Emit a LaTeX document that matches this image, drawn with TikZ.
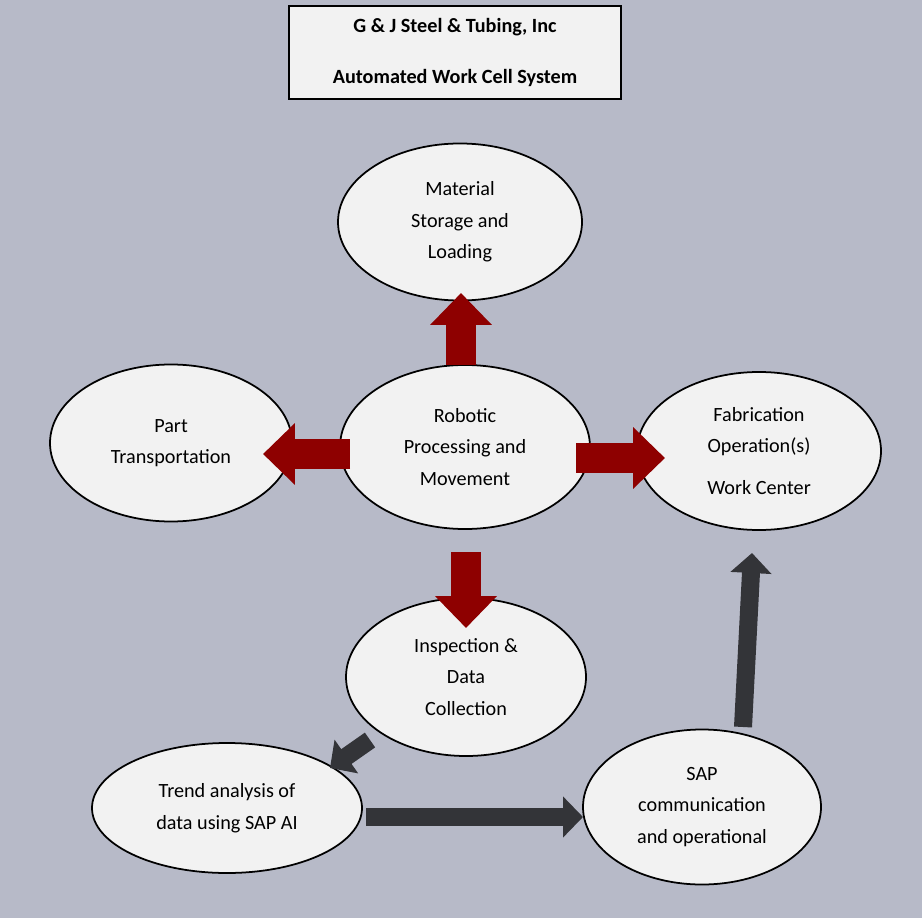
\documentclass[tikz,border=0pt]{standalone}
\usepackage{fontspec}
\setmainfont{Carlito}
\usetikzlibrary{shapes.geometric,arrows.meta}
\definecolor{bg}{HTML}{B7BAC8}
\definecolor{ell}{HTML}{F2F2F2}
\definecolor{red}{HTML}{8E0000}
\definecolor{dark}{HTML}{333438}
\begin{document}
\begin{tikzpicture}[x=0.02cm,y=-0.02cm,
  el/.style={ellipse,draw=black,line width=1pt,fill=ell,inner sep=0pt,align=center,font=\fontsize{11.5}{18}\selectfont},
  ra/.style={draw=red,line width=0.6cm,-{Triangle[width=1.2cm,length=0.64cm]}},
  da/.style={draw=dark,line width=0.36cm,-{Triangle[width=0.8cm,length=0.4cm]}}]
\fill[bg] (0,0) rectangle (922,918);
\useasboundingbox (0,0) rectangle (922,918);
\node[draw=black,line width=0.8pt,fill=ell,minimum width=332*0.02cm,minimum height=93*0.02cm,align=center,font=\bfseries\fontsize{11.5}{29}\selectfont] (title) at (455,52.5) {G \& J Steel \& Tubing, Inc\\Automated Work Cell System};
\node[el,minimum width=244*0.02cm,minimum height=157*0.02cm] (mat) at (460,222) {Material\\Storage and\\Loading};
\node[el,minimum width=250*0.02cm,minimum height=164*0.02cm] (rob) at (465,447) {Robotic\\Processing and\\Movement};
\node[el,minimum width=242*0.02cm,minimum height=157*0.02cm] (part) at (171,443) {Part\\Transportation};
\node[el,minimum width=244*0.02cm,minimum height=158*0.02cm] (fab) at (759,451) {Fabrication\\Operation(s)\\[6pt]Work Center};
\node[el,minimum width=240*0.02cm,minimum height=158*0.02cm] (insp) at (466,677) {Inspection \&\\Data\\Collection};
\node[el,minimum width=270*0.02cm,minimum height=130*0.02cm] (trend) at (227,808) {Trend analysis of\\data using SAP AI};
\node[el,minimum width=238*0.02cm,minimum height=155*0.02cm] (sap) at (702,807) {SAP\\communication\\and operational};
\coordinate (mt) at (461,293);
\coordinate (pt) at (263,454);
\coordinate (ft) at (665,458);
\coordinate (it) at (466,628);
\coordinate (tt) at (330,768);
\coordinate (st) at (583,817);
\coordinate (fb) at (752,553);
\draw[ra] (461,365) -- (mt);
\draw[ra] (350,454) -- (pt);
\draw[ra] (576,458) -- (ft);
\draw[ra] (466,552) -- (it);
\draw[da] (370,740) -- (tt);
\draw[da] (366,817) -- (st);
\draw[da] (743,727) -- (fb);
\end{tikzpicture}
\end{document}
